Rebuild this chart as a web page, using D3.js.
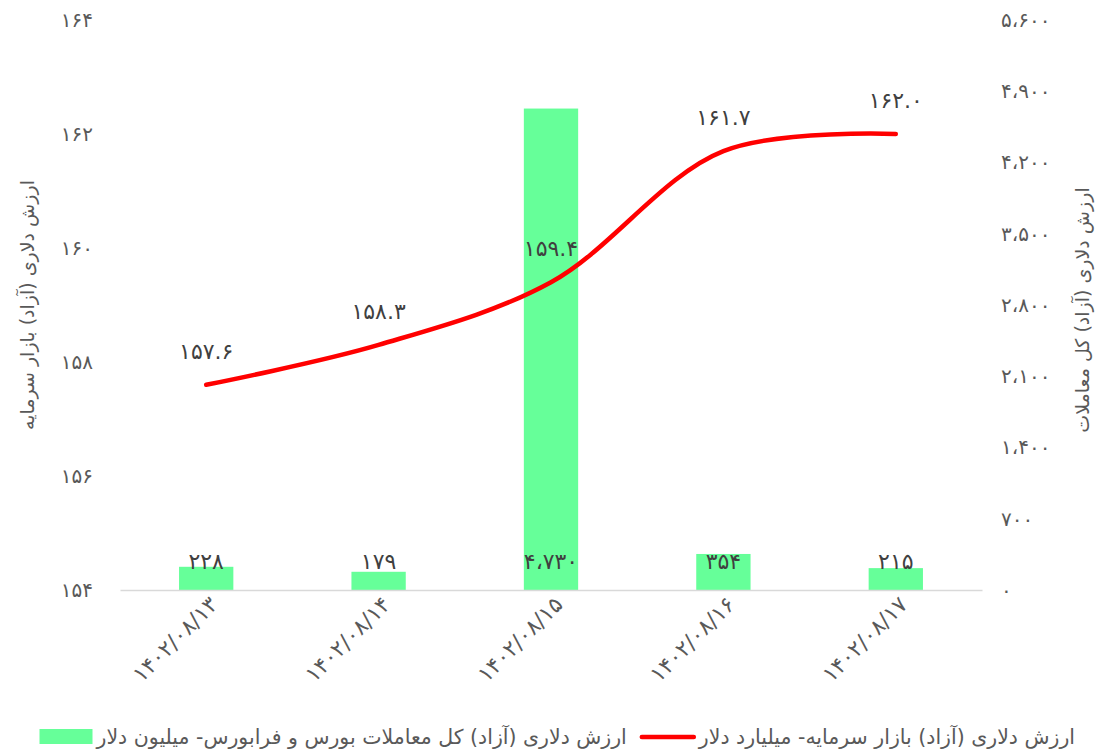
<!DOCTYPE html>
<html>
<head>
<meta charset="utf-8">
<script src="https://cdn.jsdelivr.net/npm/d3@7"></script>
<style>
  body { margin: 0; background: #fff; }
  text { font-family: "DejaVu Sans", sans-serif; }
</style>
</head>
<body>
<div id="chart"></div>
<script>
// chart data
const dates = ["۱۴۰۲/۰۸/۱۳", "۱۴۰۲/۰۸/۱۴", "۱۴۰۲/۰۸/۱۵", "۱۴۰۲/۰۸/۱۶", "۱۴۰۲/۰۸/۱۷"];
const tradeValue = [228, 179, 4730, 354, 215];          // million dollars (bars, right axis)
const marketValue = [157.6, 158.3, 159.4, 161.7, 162.0]; // billion dollars (line, left axis)
const leftTicks = [154, 156, 158, 160, 162, 164];
const rightTicks = [0, 700, 1400, 2100, 2800, 3500, 4200, 4900, 5600];

const barName = "ارزش دلاری (آزاد) کل معاملات بورس و فرابورس- میلیون دلار";
const lineName = "ارزش دلاری (آزاد) بازار سرمایه- میلیارد دلار";
const leftTitle = "ارزش دلاری (آزاد) بازار سرمایه";
const rightTitle = "ارزش دلاری (آزاد) کل معاملات";

// latin digits -> persian digits
function toFa(s) {
    return String(s).replace(/[0-9]/g, d => "۰۱۲۳۴۵۶۷۸۹"[+d]).replace(/,/g, "،");
}

const W = 1099, H = 754;
const plot = { left: 120, right: 982, top: 20, bottom: 590 };

const svg = d3.select("#chart").append("svg")
    .attr("width", W)
    .attr("height", H);

// scales
const x = d3.scaleBand()
    .domain(dates)
    .range([plot.left, plot.right]);

const yL = d3.scaleLinear()
    .domain([154, 164])
    .range([plot.bottom, plot.top]);

const yR = d3.scaleLinear()
    .domain([0, 5600])
    .range([plot.bottom, plot.top]);

const barW = x.bandwidth() * 0.315;
const cx = d => x(d) + x.bandwidth() / 2;

// axes (text only, Excel style)
const leftAxis = d3.axisLeft(yL).tickValues(leftTicks).tickSize(0).tickPadding(27)
    .tickFormat(d => toFa(d));
const rightAxis = d3.axisRight(yR).tickValues(rightTicks).tickSize(0).tickPadding(19)
    .tickFormat(d => toFa(d3.format(",")(d)));

svg.append("g")
    .attr("transform", "translate(" + plot.left + ",0)")
    .call(leftAxis)
    .call(g => g.select(".domain").remove())
    .selectAll("text")
    .attr("fill", "#595959")
    .style("font-size", "20px");

svg.append("g")
    .attr("transform", "translate(" + plot.right + ",0)")
    .call(rightAxis)
    .call(g => g.select(".domain").remove())
    .selectAll("text")
    .attr("fill", "#595959")
    .style("font-size", "20px");

// bars
svg.selectAll(".bar")
    .data(tradeValue)
    .enter().append("rect")
    .attr("class", "bar")
    .attr("x", (d, i) => cx(dates[i]) - barW / 2)
    .attr("y", d => yR(d))
    .attr("width", barW)
    .attr("height", d => yR(0) - yR(d))
    .attr("fill", "#66FF99");

// bottom axis line + date labels
const xAxis = d3.axisBottom(x).tickSize(0).tickPadding(0);
const xg = svg.append("g")
    .attr("transform", "translate(0," + plot.bottom + ")")
    .call(xAxis);
xg.select(".domain")
    .attr("stroke", "#d9d9d9")
    .attr("stroke-width", 1.5);
xg.selectAll(".tick text")
    .attr("fill", "#595959")
    .style("font-size", "22px")
    .attr("text-anchor", "end")
    .attr("dy", null)
    .attr("transform", "translate(13,16) rotate(-45)");

// bar labels (inside base)
svg.selectAll(".bar-label")
    .data(tradeValue)
    .enter().append("text")
    .attr("class", "bar-label")
    .attr("x", (d, i) => cx(dates[i]))
    .attr("y", yR(0) - 21)
    .attr("text-anchor", "middle")
    .attr("fill", "#404040")
    .style("font-size", "22px")
    .text(d => toFa(d3.format(",")(d)));

// smoothed line
const line = d3.line()
    .x((d, i) => cx(dates[i]))
    .y(d => yL(d))
    .curve(d3.curveCatmullRom.alpha(0.5));

svg.append("path")
    .datum(marketValue)
    .attr("d", line)
    .attr("fill", "none")
    .attr("stroke", "#FF0000")
    .attr("stroke-width", 4.5)
    .attr("stroke-linecap", "round");

svg.selectAll(".line-label")
    .data(marketValue)
    .enter().append("text")
    .attr("class", "line-label")
    .attr("x", (d, i) => cx(dates[i]))
    .attr("y", d => yL(d) - 26)
    .attr("text-anchor", "middle")
    .attr("fill", "#404040")
    .style("font-size", "22px")
    .text(d => toFa(d.toFixed(1)));

// axis titles
svg.append("text")
    .attr("transform", "translate(34," + (plot.top + plot.bottom) / 2 + ") rotate(-90)")
    .attr("text-anchor", "middle")
    .attr("direction", "rtl")
    .attr("fill", "#595959")
    .style("font-size", "19px")
    .text(leftTitle);

svg.append("text")
    .attr("transform", "translate(1089," + ((plot.top + plot.bottom) / 2 + 5) + ") rotate(-90)")
    .attr("text-anchor", "middle")
    .attr("direction", "rtl")
    .attr("fill", "#595959")
    .style("font-size", "19px")
    .text(rightTitle);

// legend: [swatch][text] [swatch][text], laid out from the right edge
const legY = 737;
const legend = svg.append("g").attr("class", "legend");

const t1 = legend.append("text")
    .attr("y", legY + 7)
    .attr("fill", "#595959")
    .style("font-size", "20.5px")
    .text(lineName);
const t2 = legend.append("text")
    .attr("y", legY + 7)
    .attr("fill", "#595959")
    .style("font-size", "20.5px")
    .text(barName);

const w1 = t1.node().getComputedTextLength();
const w2 = t2.node().getComputedTextLength();
const total = 55 + 5 + w1 + 12 + 53 + 4 + w2;
let lx = Math.max(8, 1075 - total);

legend.append("rect")
    .attr("x", lx).attr("y", legY - 8)
    .attr("width", 53).attr("height", 15)
    .attr("fill", "#66FF99");
lx += 53 + 4;
t2.attr("x", lx);
lx += w2 + 12;
legend.append("line")
    .attr("x1", lx + 3).attr("x2", lx + 55)
    .attr("y1", legY).attr("y2", legY)
    .attr("stroke", "#FF0000")
    .attr("stroke-width", 4.5)
    .attr("stroke-linecap", "round");
lx += 55 + 5;
t1.attr("x", lx);
</script>
</body>
</html>
